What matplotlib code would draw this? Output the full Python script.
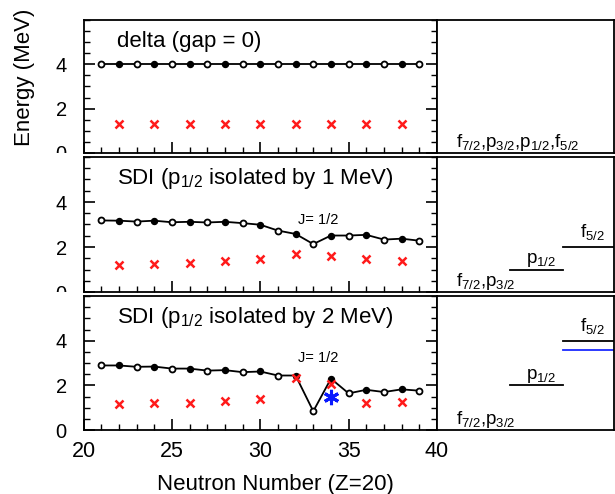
import matplotlib
matplotlib.use('Agg')
import matplotlib.pyplot as plt
from matplotlib.ticker import MultipleLocator, FixedLocator
from matplotlib.transforms import Bbox, TransformedBbox

plt.rcParams.update({
    'font.family':       ['Liberation Sans', 'DejaVu Sans'],
    'mathtext.default':  'regular',
    'axes.linewidth':    1.3,
    'xtick.direction':   'in',
    'ytick.direction':   'in',
    'xtick.major.size':  8,
    'xtick.minor.size':  4,
    'ytick.major.size':  8,
    'ytick.minor.size':  4,
    'xtick.major.width': 1.2,
    'xtick.minor.width': 1.0,
    'ytick.major.width': 1.2,
    'ytick.minor.width': 1.0,
})

# neutron numbers of the black curve (odd = open circle, even = filled)
neutrons = [21, 22, 23, 24, 25, 26, 27, 28, 29, 30, 31, 32, 33, 34, 35, 36, 37, 38, 39]
even_n = [22, 24, 26, 28, 30, 32, 34, 36, 38]

energy_delta = [4.0, 4.0, 4.0, 4.0, 4.0, 4.0, 4.0, 4.0, 4.0, 4.0,
                4.0, 4.0, 4.0, 4.0, 4.0, 4.0, 4.0, 4.0, 4.0]
energy_sdi1 = [3.18, 3.17, 3.13, 3.17, 3.10, 3.12, 3.09, 3.12, 3.06, 2.99,
               2.73, 2.58, 2.13, 2.51, 2.51, 2.54, 2.33, 2.37, 2.28]
energy_sdi2 = [2.89, 2.89, 2.83, 2.84, 2.75, 2.75, 2.66, 2.68, 2.59, 2.62,
               2.44, 2.44, 0.84, 2.30, 1.64, 1.80, 1.70, 1.82, 1.76]

# red crosses (experiment)
exp_delta = [1.32, 1.32, 1.32, 1.32, 1.32, 1.32, 1.32, 1.32, 1.32]
exp_sdi1 = [1.21, 1.24, 1.30, 1.39, 1.46, 1.67, 1.61, 1.46, 1.40]
exp_sdi2 = [1.16, 1.19, 1.23, 1.29, 1.37, 2.33, 2.08, 1.23, 1.27]

star_n = [34]
star_e = [1.50]

titles = ['delta (gap = 0)',
          r'SDI (p$_{1/2}$ isolated by 1 MeV)',
          r'SDI (p$_{1/2}$ isolated by 2 MeV)']
curves = [energy_delta, energy_sdi1, energy_sdi2]
crosses = [exp_delta, exp_sdi1, exp_sdi2]

# single-particle levels for the right-hand panels
p12_levels = [None, 1.0, 2.0]
f52_levels = [None, 2.0, 4.0]
blue_level = 3.57
ground_labels = [r'f$_{7/2}$,p$_{3/2}$,p$_{1/2}$,f$_{5/2}$',
                 r'f$_{7/2}$,p$_{3/2}$',
                 r'f$_{7/2}$,p$_{3/2}$']

fig = plt.figure(figsize=(6.15, 4.94), dpi=100)

W, H = 615, 494
main_l, main_r, side_r = 83.5, 437, 614
rows = [(20, 153), (157, 292), (296, 430)]

for i, (top, bot) in enumerate(rows):
    ax = fig.add_axes([main_l / W, 1 - bot / H, (main_r - main_l) / W, (bot - top) / H])
    side = fig.add_axes([main_r / W, 1 - bot / H, (side_r - main_r) / W, (bot - top) / H])

    y = curves[i]
    ax.plot(neutrons, y, color='black', lw=1.3, zorder=2)
    odd_x = [n for n in neutrons if n % 2]
    odd_y = [e for n, e in zip(neutrons, y) if n % 2]
    ev_x = [n for n in neutrons if n % 2 == 0]
    ev_y = [e for n, e in zip(neutrons, y) if n % 2 == 0]
    ax.plot(odd_x, odd_y, 'o', ms=4.3, mfc='white', mec='black', mew=1.3, zorder=3)
    ax.plot(ev_x, ev_y, 'o', ms=4.3, mfc='black', mec='black', zorder=3)
    ax.plot(even_n, crosses[i], 'x', color='#ff1a1a', ms=5.5, mew=1.8, zorder=4)
    if i == 2:
        ax.plot(star_n, star_e, marker=(6, 2, 0), ls='none', color='#0a1aff',
                ms=11, mew=2.2, zorder=5)

    ax.text(21.9, 5.05, titles[i], fontsize=16, ha='left', va='center')
    if i > 0:
        ax.text(33.3, 3.22, 'J= 1/2', fontsize=10.5, ha='center', va='center')

    ax.set_xlim(20, 40)
    ax.set_ylim(0, 6)
    ax.xaxis.set_major_locator(FixedLocator([20, 25, 30, 35, 40]))
    ax.xaxis.set_minor_locator(MultipleLocator(1))
    ax.yaxis.set_major_locator(FixedLocator([0, 2, 4]))
    ax.yaxis.set_minor_locator(MultipleLocator(0.5))
    ax.tick_params(which='both', left=True, right=True, top=False, bottom=True)
    ax.tick_params(axis='y', labelsize=14.5, pad=12)
    ax.tick_params(axis='x', labelsize=15.5, pad=8)
    if i < 2:
        ax.tick_params(axis='x', labelbottom=False)
        # the "0" label is cut off by the panel below
        clip = TransformedBbox(Bbox([[-1, 0], [1, 1.2]]), ax.transAxes)
        for t in ax.yaxis.get_major_ticks():
            t.label1.set_clip_box(clip)
            t.label1.set_clip_on(True)
    else:
        ax.set_xlabel('Neutron Number (Z=20)', fontsize=16)
        ax.xaxis.set_label_coords(0.542, -0.33)
    if i == 0:
        ax.set_ylabel('Energy (MeV)', fontsize=16)
        ax.yaxis.set_label_coords(-0.137, 0.57)

    # level scheme
    side.set_xlim(0, 1)
    side.set_ylim(0, 6)
    side.set_xticks([])
    side.set_yticks([])
    side.text(0.11, 0.25, ground_labels[i], fontsize=13.5, ha='left', va='baseline')
    if p12_levels[i] is not None:
        side.plot([0.41, 0.71], [p12_levels[i], p12_levels[i]], color='black', lw=1.3)
        side.plot([0.71, 1.0], [f52_levels[i], f52_levels[i]], color='black', lw=1.3)
        side.text(0.59, p12_levels[i] + 0.3, r'p$_{1/2}$', fontsize=13.5,
                  ha='center', va='baseline')
        side.text(0.88, f52_levels[i] + 0.45, r'f$_{5/2}$', fontsize=13.5,
                  ha='center', va='baseline')
    if i == 2:
        side.plot([0.71, 1.0], [blue_level, blue_level], color='#1a2aff', lw=1.3)

fig.savefig('out.png', dpi=100)
